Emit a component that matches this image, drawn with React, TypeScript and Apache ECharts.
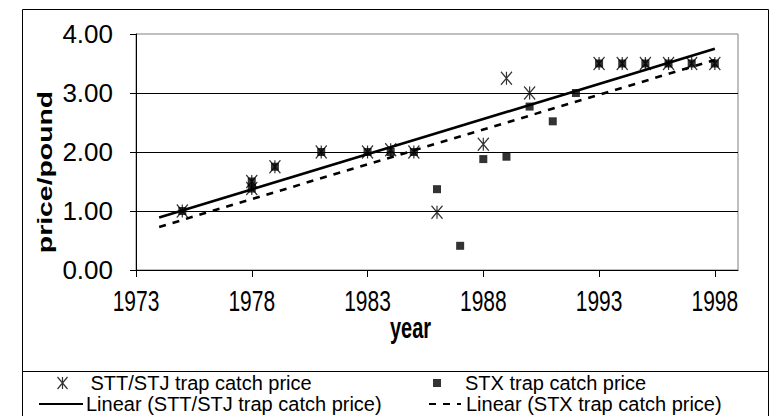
import { useEffect, useRef } from 'react';
import * as echarts from 'echarts';

const sttYears = [1975, 1978, 1978, 1979, 1981, 1983, 1984, 1985, 1986, 1988, 1989, 1990, 1993, 1994, 1995, 1996, 1997, 1998];
const sttPrices = [1.0, 1.5, 1.38, 1.75, 2.0, 2.0, 2.04, 2.0, 0.98, 2.13, 3.25, 3.0, 3.5, 3.5, 3.5, 3.5, 3.5, 3.5];
const stxYears = [1975, 1978, 1978, 1979, 1981, 1983, 1984, 1985, 1986, 1987, 1988, 1989, 1990, 1991, 1992, 1993, 1994, 1995, 1996, 1997, 1998];
const stxPrices = [1.0, 1.5, 1.38, 1.75, 2.0, 2.0, 2.0, 2.0, 1.37, 0.41, 1.88, 1.92, 2.77, 2.52, 3.0, 3.5, 3.5, 3.5, 3.5, 3.5, 3.5];
const trendYears = [1974, 1998];
const sttTrend = [0.89, 3.75];
const stxTrend = [0.73, 3.56];
const yearTicks = [1973, 1978, 1983, 1988, 1993, 1998];

const names = [
  'STT/STJ trap catch price',
  'STX trap catch price',
  'Linear (STT/STJ trap catch price)',
  'Linear (STX trap catch price)',
];

export default function App() {
  const ref = useRef<HTMLDivElement>(null);
  useEffect(() => {
    if (!ref.current) return;
    const chart = echarts.init(ref.current, null, { renderer: 'svg' });
    const font = "'Liberation Sans', Arial, sans-serif";
    const asterisk = 'path://M0,0L10,12M10,0L0,12M5,0L5,12';
    const square = 'path://M0,0L1,0L1,1L0,1Z';
    const legendText = { fontFamily: font, fontSize: 20, color: '#000' };
    const baseGraphic: any[] = [
      { type: 'rect', shape: { x: 22.5, y: 9.5, width: 746, height: 362 }, style: { fill: 'none', stroke: '#000', lineWidth: 1 }, silent: true },
      { type: 'rect', shape: { x: 22.5, y: 371.5, width: 746, height: 60 }, style: { fill: 'none', stroke: '#000', lineWidth: 1 }, silent: true },
      { type: 'text', x: 410.5, y: 327, scaleY: 1.5,
        style: { text: 'year', fontFamily: font, fontWeight: 'bold', fontSize: 20, fill: '#000', align: 'center', verticalAlign: 'middle' } },
      { type: 'text', x: 45, y: 172, rotation: Math.PI / 2, scaleX: 1.42,
        style: { text: 'price/pound', fontFamily: font, fontWeight: 'bold', fontSize: 20, fill: '#000', align: 'center', verticalAlign: 'middle' } },
    ];
    chart.setOption({
      animation: false,
      backgroundColor: '#fff',
      grid: {
        left: 136, top: 34, right: 46, bottom: 146,
        show: true, borderColor: '#808080', borderWidth: 1, backgroundColor: '#fff',
        outerBoundsMode: 'none',
      },
      xAxis: {
        type: 'value', min: 1973, max: 1999, interval: 5,
        axisLine: { lineStyle: { color: '#000', width: 1 } },
        axisTick: { show: true, length: 7, customValues: yearTicks, lineStyle: { color: '#000' } },
        axisLabel: { show: false },
        splitLine: { show: false },
      },
      yAxis: {
        type: 'value', min: 0, max: 4, interval: 1,
        axisLine: { show: true, lineStyle: { color: '#000', width: 1 } },
        axisTick: { show: true, length: 6, lineStyle: { color: '#000' } },
        axisLabel: { formatter: (v: number) => v.toFixed(2), fontFamily: font, fontSize: 26, color: '#000', margin: 23 },
        splitLine: { show: true, showMaxLine: false, lineStyle: { color: '#000', width: 1 } },
      },
      legend: [
        { data: [{ name: names[0], icon: asterisk, itemStyle: { color: 'none', borderColor: '#000', borderWidth: 1.2 } }],
          left: 55, top: 373, itemWidth: 40, itemHeight: 12, selectedMode: false, textStyle: { ...legendText, padding: [0, 0, 0, 3] }, padding: 0 },
        { data: [{ name: names[1], icon: square }],
          left: 433, top: 373, itemWidth: 40, itemHeight: 8, selectedMode: false, textStyle: { ...legendText, padding: [0, 0, 0, 3] }, padding: 0 },
        { data: [{ name: names[2], itemStyle: { opacity: 0 } }], left: 38, top: 394, itemWidth: 44, itemHeight: 12, selectedMode: false, textStyle: { ...legendText, padding: [0, 0, 0, -2] }, padding: 0 },
        { data: [{ name: names[3], itemStyle: { opacity: 0 } }], left: 428, top: 394, itemWidth: 32, itemHeight: 12, selectedMode: false, textStyle: legendText, padding: 0 },
      ],
      graphic: baseGraphic,
      series: [
        {
          name: names[0], type: 'scatter', symbol: asterisk, symbolSize: [11, 13],
          itemStyle: { color: 'none', borderColor: '#000', borderWidth: 1.3 },
          data: sttYears.map((y, i) => [y, sttPrices[i]]), z: 3,
        },
        {
          name: names[1], type: 'scatter', symbol: square, symbolSize: 8,
          itemStyle: { color: '#000' },
          data: stxYears.map((y, i) => [y, stxPrices[i]]), z: 4,
        },
        {
          name: names[2], type: 'line', symbol: 'none',
          lineStyle: { color: '#000', width: 2.6 }, itemStyle: { color: '#000' },
          data: trendYears.map((y, i) => [y, sttTrend[i]]), z: 5,
        },
        {
          name: names[3], type: 'line', symbol: 'none',
          lineStyle: { color: '#000', width: 2.6, type: [7, 7] }, itemStyle: { color: '#000' },
          data: trendYears.map((y, i) => [y, stxTrend[i]]), z: 5,
        },
      ],
    });
    // x tick labels, positioned through the x axis scale, drawn tall as in the reference
    const axisY = chart.convertToPixel({ yAxisIndex: 0 }, 0) as number;
    const xLabels = yearTicks.map((yr) => ({
      type: 'text',
      x: chart.convertToPixel({ xAxisIndex: 0 }, yr) as number,
      y: axisY + 30.5,
      scaleY: 1.42,
      silent: true,
      style: { text: String(yr), fontFamily: font, fontSize: 21, fill: '#000', align: 'center', verticalAlign: 'middle' },
    }));
    chart.setOption({ graphic: [...baseGraphic, ...xLabels] });
    return () => chart.dispose();
  }, []);
  return <div ref={ref} style={{ position: 'absolute', left: 0, top: 0, width: 784, height: 416 }} />;
}
